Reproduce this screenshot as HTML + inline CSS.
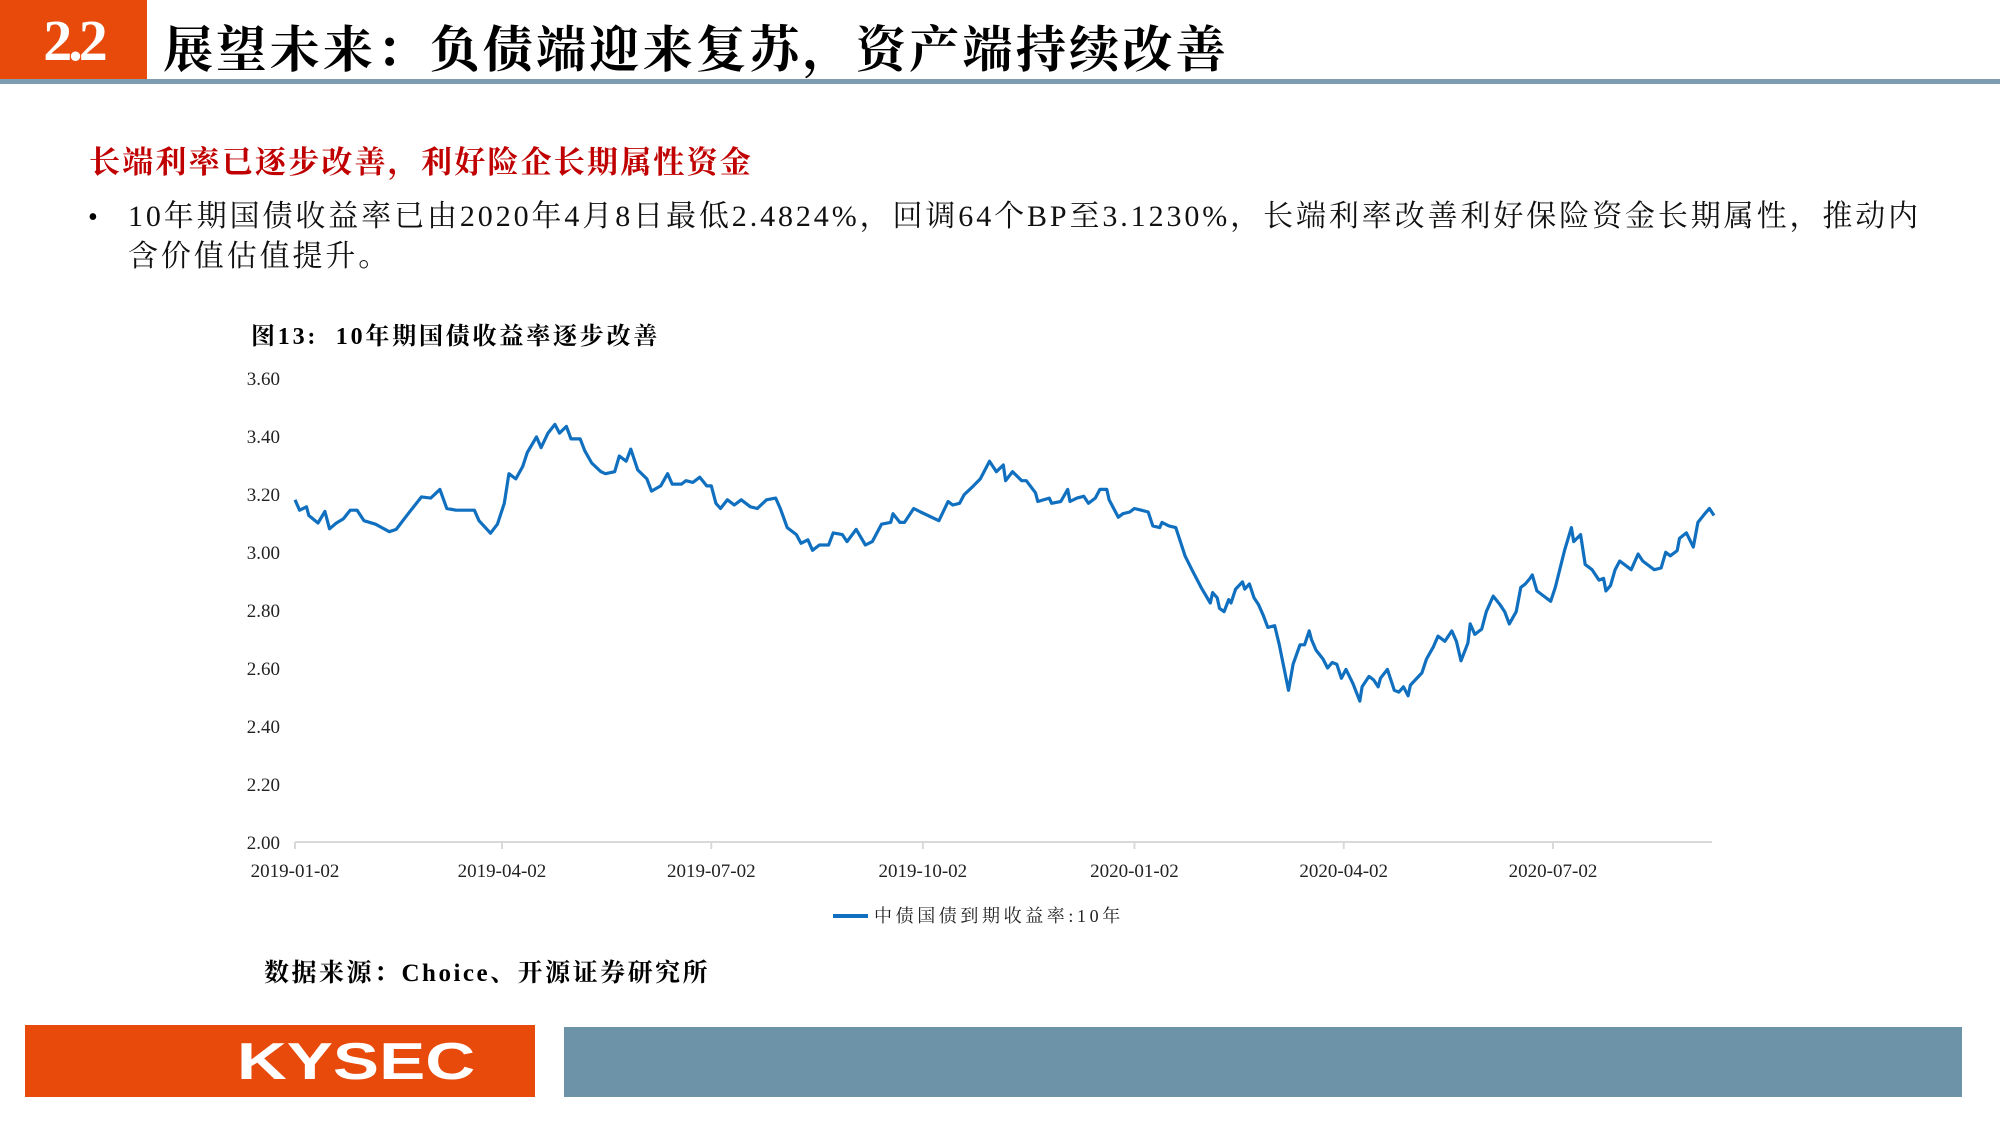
<!DOCTYPE html>
<html><head><meta charset="utf-8">
<style>
html,body{margin:0;padding:0;background:#fff;}
body{width:2000px;height:1125px;position:relative;overflow:hidden;font-family:"Liberation Serif","Noto Serif CJK SC",serif;}
.abs{position:absolute;white-space:nowrap;}
</style></head>
<body>
<div class="abs" style="left:0;top:0;width:147px;height:82px;background:#e84a0c;"></div>
<div class="abs" style="left:0;top:6px;width:147px;text-align:center;color:#fff;font-size:58px;font-weight:bold;letter-spacing:-4px;line-height:70px;">2.2</div>
<div class="abs" style="left:0;top:79px;width:2000px;height:5px;background:#7d9cb0;"></div>
<div class="abs" style="left:163px;top:14px;font-size:50px;font-weight:bold;letter-spacing:3.3px;line-height:64px;font-family:'Noto Serif CJK SC',serif;color:#000;">展望未来：负债端迎来复苏，资产端持续改善</div>

<div class="abs" style="left:89px;top:140px;font-size:31px;font-weight:bold;letter-spacing:2.2px;color:#c00000;font-family:'Noto Serif CJK SC',serif;line-height:40px;">长端利率已逐步改善，利好险企长期属性资金</div>
<div class="abs" style="left:88px;top:200px;font-size:28px;line-height:36px;">•</div>
<div class="abs" style="left:128px;top:197px;font-size:30px;letter-spacing:2.9px;line-height:40px;color:#111;font-family:'Liberation Serif','Noto Serif CJK SC',serif;">10年期国债收益率已由2020年4月8日最低2.4824%，回调64个BP至3.1230%，长端利率改善利好保险资金长期属性，推动内<br>含价值估值提升。</div>

<div class="abs" style="left:251px;top:322px;font-size:24px;font-weight:bold;letter-spacing:2.8px;line-height:30px;font-family:'Liberation Serif','Noto Serif CJK SC',serif;">图13:&nbsp;&nbsp;10年期国债收益率逐步改善</div>

<svg id="chart" class="abs" style="left:0;top:0" width="2000" height="1125"></svg>

<div class="abs" style="left:264px;top:958px;font-size:25px;font-weight:bold;letter-spacing:2.5px;line-height:32px;font-family:'Liberation Serif','Noto Serif CJK SC',serif;">数据来源：Choice、开源证券研究所</div>

<div class="abs" style="left:25px;top:1025px;width:510px;height:72px;background:#e84a0c;"></div>
<div class="abs" style="left:256px;top:1025px;width:200px;height:72px;line-height:74px;text-align:center;color:#fff;font-family:'Liberation Sans',sans-serif;font-weight:bold;font-size:52px;transform:scaleX(1.33);">KYSEC</div>
<div class="abs" style="left:564px;top:1027px;width:1398px;height:70px;background:#6d93a9;"></div>

<script>
const days=[0,2,5,6,10,13,15,18,21,24,27,30,35,41,44,49,55,59,63,66,70,78,80,85,88,91,93,96,99,101,105,107,110,113,115,118,120,124,126,129,133,135,139,141,144,146,149,153,155,159,162,164,168,170,173,176,179,181,183,185,188,191,194,198,201,205,209,211,214,218,220,223,225,228,232,234,238,240,244,248,251,255,259,260,263,265,269,272,280,284,286,289,291,295,298,302,305,308,309,312,316,318,322,323,328,329,333,336,337,340,343,345,348,350,353,354,358,360,363,365,368,371,373,376,377,380,383,385,387,390,394,398,399,401,402,404,406,407,409,412,413,415,417,419,421,423,426,428,432,434,437,439,441,442,444,447,449,451,453,455,457,460,463,464,467,469,471,472,475,478,480,482,484,485,490,492,495,497,500,503,505,507,510,511,513,516,518,521,524,526,528,531,533,535,537,538,540,543,546,548,552,555,556,559,561,564,567,569,570,572,574,576,579,581,584,586,588,591,594,596,598,601,602,605,608,610,613,615,617];
const yields=[3.18,3.144,3.156,3.126,3.10,3.14,3.08,3.10,3.114,3.144,3.144,3.108,3.096,3.07,3.078,3.13,3.19,3.186,3.216,3.15,3.144,3.144,3.108,3.065,3.096,3.168,3.27,3.252,3.295,3.343,3.397,3.36,3.41,3.44,3.41,3.433,3.39,3.39,3.349,3.307,3.277,3.27,3.277,3.331,3.313,3.355,3.283,3.252,3.21,3.228,3.27,3.234,3.234,3.246,3.24,3.258,3.228,3.228,3.168,3.15,3.18,3.162,3.18,3.156,3.15,3.18,3.186,3.15,3.084,3.06,3.03,3.042,3.006,3.024,3.024,3.066,3.06,3.036,3.078,3.024,3.036,3.096,3.102,3.132,3.102,3.102,3.15,3.138,3.108,3.174,3.162,3.168,3.198,3.228,3.252,3.313,3.277,3.30,3.246,3.277,3.246,3.246,3.204,3.174,3.186,3.168,3.174,3.216,3.174,3.186,3.192,3.168,3.186,3.216,3.216,3.18,3.12,3.132,3.138,3.15,3.144,3.138,3.09,3.084,3.102,3.09,3.084,3.036,2.987,2.939,2.878,2.824,2.86,2.842,2.806,2.794,2.836,2.824,2.872,2.897,2.872,2.89,2.842,2.818,2.782,2.74,2.746,2.68,2.523,2.613,2.68,2.68,2.728,2.698,2.661,2.631,2.60,2.619,2.613,2.565,2.595,2.547,2.486,2.535,2.571,2.559,2.535,2.565,2.595,2.523,2.517,2.535,2.504,2.541,2.583,2.631,2.673,2.71,2.692,2.728,2.692,2.625,2.686,2.752,2.716,2.734,2.794,2.848,2.818,2.794,2.752,2.794,2.878,2.89,2.909,2.921,2.866,2.848,2.83,2.878,3.005,3.084,3.036,3.06,2.957,2.939,2.903,2.909,2.866,2.884,2.939,2.969,2.951,2.939,2.993,2.969,2.957,2.939,2.945,2.999,2.987,3.005,3.047,3.066,3.017,3.102,3.132,3.15,3.126];
const yTicks=[2.00,2.20,2.40,2.60,2.80,3.00,3.20,3.40,3.60];
const xTickDays=[0,90,181,273,365,456,547];
const xTickLabels=["2019-01-02","2019-04-02","2019-07-02","2019-10-02","2020-01-02","2020-04-02","2020-07-02"];

const NS="http://www.w3.org/2000/svg";
const svg=document.getElementById('chart');
const X0=295,X1=1712,Y0=842,Y1=378;
function xs(d){return 295+d*(1553-295)/547;}
function ys(v){return Y0-(v-2.0)*(Y0-Y1)/1.6;}
function mk(t,a){const e=document.createElementNS(NS,t);for(const k in a)e.setAttribute(k,a[k]);svg.appendChild(e);return e;}

const ax=mk('line',{x1:X0,y1:Y0,x2:X1,y2:Y0,stroke:'#d9d9d9','stroke-width':2});


yTicks.forEach(v=>{
  const t=mk('text',{x:280,y:ys(v)+7,'text-anchor':'end','font-size':19,'font-family':'Liberation Serif,serif',fill:'#222'});
  t.textContent=v.toFixed(2);
  
  
});
xTickDays.forEach((d,i)=>{
  const l=mk('line',{x1:xs(d),y1:Y0,x2:xs(d),y2:Y0+7,stroke:'#d9d9d9','stroke-width':2});
  
  
  const t=mk('text',{x:xs(d),y:877,'text-anchor':'middle','font-size':19,'font-family':'Liberation Serif,serif',fill:'#222'});
  t.textContent=xTickLabels[i];
  
  
});
const pts=days.map((d,i)=>xs(d).toFixed(1)+','+ys(yields[i]).toFixed(1)).join(' ');
const pl=mk('polyline',{points:pts,fill:'none',stroke:'#1070bf','stroke-width':3.2,'stroke-linejoin':'round'});


const ll=mk('line',{x1:833,y1:916,x2:868,y2:916,stroke:'#1070bf','stroke-width':4});


const lt=mk('text',{x:874,y:922,'font-size':18,'letter-spacing':3.6,'font-family':'Liberation Serif,Noto Serif CJK SC,serif',fill:'#222'});
lt.textContent='中债国债到期收益率:10年';


</script>
</body></html>
